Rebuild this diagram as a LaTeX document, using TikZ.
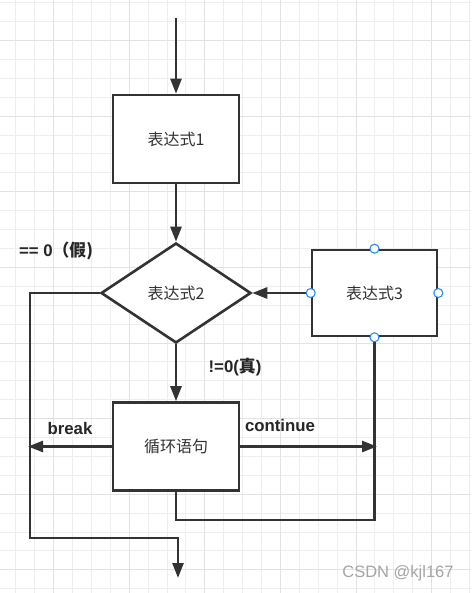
\documentclass[tikz,border=0pt]{standalone}
\usepackage{fontspec}
\setmainfont{Liberation Sans}
\newfontfamily\cjk{Noto Sans CJK SC}
\usetikzlibrary{shapes.geometric,arrows.meta}
\definecolor{inkc}{RGB}{51,51,51}
\definecolor{minorc}{RGB}{238,238,238}
\definecolor{majorc}{RGB}{226,226,226}
\definecolor{handlec}{RGB}{40,140,255}
\definecolor{wmarkc}{RGB}{165,165,165}
\tikzset{
  procbox/.style={draw=inkc,line width=2.6pt,fill=white,minimum width=126pt,minimum height=88pt,inner sep=0pt,text=inkc,font=\cjk\fontsize{16}{18}\selectfont},
  decision/.style={diamond,draw=inkc,line width=2.6pt,fill=white,minimum width=150pt,minimum height=100pt,inner sep=0pt,text=inkc,font=\cjk\fontsize{16}{18}\selectfont},
  flow/.style={draw=inkc,line width=2.6pt,-{Triangle[length=15pt,width=11pt]}},
  conn/.style={draw=inkc,line width=2.6pt},
  lbl/.style={text=black!85,font=\bfseries\fontsize{16.8}{18}\selectfont,inner sep=0pt},
  handle/.style={draw=handlec,fill=white,line width=1.1pt},
  wmark/.style={text=wmarkc,font=\fontsize{16.5}{18}\selectfont,inner sep=0pt}
}
\begin{document}
\begin{tikzpicture}[x=1pt,y=-1pt]
    \fill[white] (0,0) rectangle (471,593);
    \useasboundingbox (0,0) rectangle (471,593);
    \foreach \i in {0,...,24} \draw[minorc,line width=1pt] ({15.8+18.9*\i},0)--({15.8+18.9*\i},593);
    \foreach \i in {0,...,31} \draw[minorc,line width=1pt] (0,{2.8+18.9*\i})--(471,{2.8+18.9*\i});
    \foreach \i in {2,6,...,22} \draw[majorc,line width=1pt] ({15.8+18.9*\i},0)--({15.8+18.9*\i},593);
    \foreach \i in {2,6,...,30} \draw[majorc,line width=1pt] (0,{2.8+18.9*\i})--(471,{2.8+18.9*\i});
    \node[procbox] (expr1) at (176,139) {表达式1};
    \node[decision] (expr2) at (176,293) {表达式2};
    \node[procbox,minimum width=125pt,minimum height=86pt] (expr3) at (374.5,293) {表达式3};
    \node[procbox] (body) at (176,446.5) {循环语句};
    \coordinate (start) at (176,18);
    \coordinate (lft) at (30,538);
    \coordinate (end) at (178,578);
    \coordinate (brk) at (28,446.5);
    \coordinate (cnt) at (377,446.5);
    \coordinate (loopbot) at (176,520);
    \draw[flow] (start)--(expr1);
    \draw[flow] (expr1)--(expr2);
    \draw[flow] (expr3.west)--(expr2.east);
    \draw[flow] (expr2)--(body);
    \draw[flow] (expr2.west) -| (lft) -- (lft -| end) -- (end);
    \draw[flow] (body.west)--(brk);
    \draw[flow] (body.east)--(cnt);
    \draw[conn] (expr3.south) |- (loopbot) -- (body.south);
    \foreach \a in {north,south,east,west}
    \draw[handle] (expr3.\a) circle (4.5pt);
    \node[lbl] (falselbl) at (56,251) {== 0{\cjk （假}{\cjk )}};
    \node[lbl] (truelbl) at (235,367) {!=0({\cjk 真})};
    \node[lbl] (breaklbl) at (70,428) {break};
    \node[lbl] (contlbl) at (280,425) {continue};
    \node[wmark] (wmk) at (398,573) {CSDN @kjl167};
\end{tikzpicture}
\end{document}
